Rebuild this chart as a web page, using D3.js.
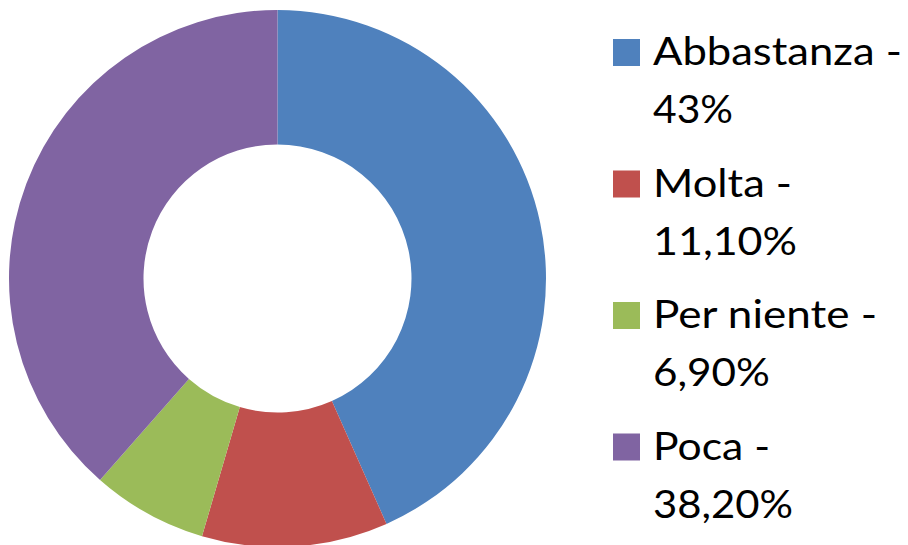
<!DOCTYPE html>
<html>
<head>
<meta charset="utf-8">
<script src="https://cdn.jsdelivr.net/npm/d3@7"></script>
<style>
  html, body { margin: 0; padding: 0; background: #fff; }
  svg { display: block; }
</style>
</head>
<body>
<svg id="chart" width="908" height="545"></svg>
<script>
// Survey answers, in clockwise order from 12 o'clock
const categories = ["Abbastanza", "Molta", "Per niente", "Poca"];
const values = [43, 11.1, 6.9, 38.2];
const valueLabels = ["43%", "11,10%", "6,90%", "38,20%"];
const colors = ["#4F81BD", "#C0504D", "#9BBB59", "#8064A2"];

const svg = d3.select("#chart");
const cx = 277.5, cy = 278.5;
const outerR = 268.5, innerR = 134;

const pie = d3.pie().sort(null).value(d => d.value);
const arc = d3.arc().innerRadius(innerR).outerRadius(outerR);

const rows = categories.map((c, i) => ({ name: c, value: values[i], label: valueLabels[i], color: colors[i] }));

svg.append("g")
  .attr("transform", `translate(${cx},${cy})`)
  .selectAll("path")
  .data(pie(rows))
  .join("path")
  .attr("d", arc)
  .attr("fill", d => d.data.color);

// Legend: square swatch + two-line label
const legendX = 613, textX = 653;
const firstBaseline = 65, entryStep = 131.5, lineStep = 58;
const swatch = 27;
const fontSize = 39;

const legend = svg.append("g")
  .attr("font-family", "Lato, 'Open Sans', sans-serif")
  .attr("font-size", fontSize)
  .attr("fill", "#000");

const item = legend.selectAll("g.item")
  .data(rows)
  .join("g")
  .attr("class", "item")
  .attr("transform", (d, i) => `translate(0,${firstBaseline + i * entryStep})`);

item.append("rect")
  .attr("x", legendX)
  .attr("y", 1 - swatch)
  .attr("width", swatch)
  .attr("height", swatch)
  .attr("fill", d => d.color);

const firstWidths = [249, 139, 224, 117];
const secondWidths = [80, 144, 117, 140];

item.append("text")
  .attr("x", textX)
  .attr("y", 0)
  .attr("textLength", (d, i) => firstWidths[i])
  .attr("lengthAdjust", "spacingAndGlyphs")
  .text(d => d.name + " -");

item.append("text")
  .attr("x", textX)
  .attr("y", lineStep)
  .attr("textLength", (d, i) => secondWidths[i])
  .attr("lengthAdjust", "spacingAndGlyphs")
  .text(d => d.label);
</script>
</body>
</html>
